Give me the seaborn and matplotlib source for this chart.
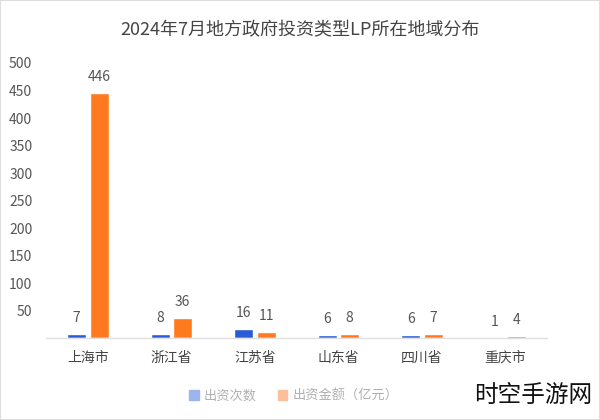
import matplotlib
matplotlib.use("Agg")
import matplotlib.pyplot as plt
import seaborn as sns
import pandas as pd
from matplotlib.patches import Patch

regions = ["上海市", "浙江省", "江苏省", "山东省", "四川省", "重庆市"]
counts = [7, 8, 16, 6, 6, 1]
amounts = [446, 36, 11, 8, 7, 4]
series_names = ["出资次数", "出资金额（亿元）"]
yticks = [50, 100, 150, 200, 250, 300, 350, 400, 450, 500]
title = "2024年7月地方政府投资类型LP所在地域分布"

sns.set_theme(style="white")
plt.rcParams["font.family"] = ["Noto Sans CJK SC", "DejaVu Sans"]

df = pd.DataFrame({
    "region": regions * 2,
    "value": counts + amounts,
    "series": [series_names[0]] * len(regions) + [series_names[1]] * len(regions),
})

blue = "#2a5bd7"
orange = "#ff7a1f"

fig = plt.figure(figsize=(6, 4.2), dpi=100)
ax = fig.add_axes([0.077, 0.195, 0.835, 0.655])

sns.barplot(data=df, x="region", y="value", hue="series", order=regions,
            hue_order=series_names, palette=[blue, orange], width=0.54,
            gap=0.15, ax=ax, legend=False, saturation=1)

for cont in ax.containers:
    for bar in cont:
        h = bar.get_height()
        ax.annotate(f"{int(round(h))}", (bar.get_x() + bar.get_width() / 2, h),
                    xytext=(0, 9), textcoords="offset pixels", ha="center",
                    va="bottom", fontsize=10, color="#555555")

ax.set_ylim(0, 500)
ax.set_xlim(-0.5, len(regions) - 0.5)
ax.set_yticks(yticks)
ax.set_yticklabels([str(t) for t in yticks])
ax.tick_params(axis="y", length=0, labelsize=10, labelcolor="#555555", pad=10)
ax.tick_params(axis="x", length=0, labelsize=10, labelcolor="#444444", pad=9)
ax.set_xlabel("")
ax.set_ylabel("")
for s in ["top", "right", "left"]:
    ax.spines[s].set_visible(False)
ax.spines["bottom"].set_color("#e0e0e0")
ax.spines["bottom"].set_linewidth(1)

fig.text(0.5, 0.928, title, ha="center", va="center", fontsize=13, color="#444444")

handles = [Patch(color="#9db5ef"), Patch(color="#fbbf9c")]
leg = fig.legend(handles, series_names, loc="center", bbox_to_anchor=(0.49, 0.057),
                 ncol=2, frameon=False, fontsize=9.5, handlelength=0.7, handleheight=0.7,
                 handletextpad=0.4, columnspacing=1.6)
for t in leg.get_texts():
    t.set_color("#b0b0b0")

fig.text(0.79, 0.03, "时空手游网", ha="left", va="bottom", fontsize=17, color="#111111")

fig.add_artist(plt.Rectangle((0, 0), 1, 1, transform=fig.transFigure, fill=False,
                             edgecolor="#dddddd", linewidth=1.5))

fig.savefig("out.png", dpi=100)
